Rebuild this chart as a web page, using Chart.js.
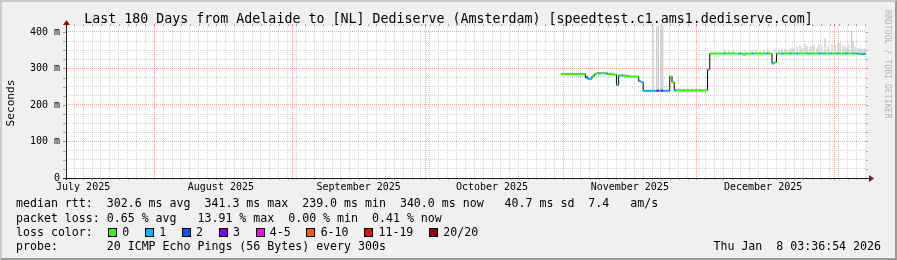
<!DOCTYPE html>
<html><head><meta charset="utf-8">
<script src="https://cdn.jsdelivr.net/npm/chart.js@4.4.1/dist/chart.umd.min.js"></script>
<style>
html,body{margin:0;padding:0;background:#f0f0f0;}
#wrap{position:relative;width:897px;height:260px;overflow:hidden;background:#f0f0f0;font-family:"DejaVu Sans Mono",monospace;color:#000;}
#c{position:absolute;left:0;top:0;}
#frame{position:absolute;left:0;top:0;width:897px;height:260px;box-sizing:border-box;border-style:solid;border-width:2px;border-color:#cbcbcb #999 #999 #cbcbcb;pointer-events:none;}
.t{position:absolute;white-space:pre;font-size:11.6px;line-height:14px;}
#title{position:absolute;left:0;width:897px;top:11.4px;text-align:center;font-size:13.3px;line-height:16px;white-space:pre;}
#ylab{position:absolute;left:-39.5px;top:95.7px;width:100px;height:14px;line-height:14px;text-align:center;font-size:11.1px;transform:rotate(-90deg);white-space:pre;}
#wm{position:absolute;left:838px;top:53.5px;width:100px;height:12px;line-height:12px;text-align:center;font-size:8.2px;color:#b4b4b4;transform:rotate(90deg);white-space:pre;}
#lossrow{display:flex;align-items:flex-start;}
.sw{display:block;width:9px;height:9px;box-sizing:border-box;border:1px solid #000;margin-top:3px;margin-right:5.3px;flex:none;}
.lb{margin-right:15.6px;}
</style>
</head><body>
<div id="wrap">
<canvas id="c" width="897" height="260"></canvas>
<div id="title">Last 180 Days from Adelaide to [NL] Dediserve (Amsterdam) [speedtest.c1.ams1.dediserve.com]</div>
<div id="ylab">Seconds</div>
<div id="wm">RRDTOOL / TOBI OETIKER</div>
<div class="t" style="left:16px;top:196.3px">median rtt:  302.6 ms avg  341.3 ms max  239.0 ms min  340.0 ms now   40.7 ms sd  7.4   am/s</div>
<div class="t" style="left:16px;top:210.7px">packet loss: 0.65 % avg   13.91 % max  0.00 % min  0.41 % now</div>
<div class="t" id="lossrow" style="left:16px;top:225px"></div>
<div class="t" style="left:16px;top:239.3px">probe:       20 ICMP Echo Pings (56 Bytes) every 300s</div>
<div class="t" style="right:16px;top:239.3px">Thu Jan  8 03:36:54 2026</div>
<div id="frame"></div>
</div>
<script>
// ---- time axis: days since 2025-07-01 00:00 (local) ----
const xMin = 11.15, xMax = 191.15;
const monthStarts = [31, 62, 92, 123, 153, 184];
const monthLabelDays = [15, 46, 77, 107, 138, 168];
const monthLabels = ['July 2025','August 2025','September 2025','October 2025','November 2025','December 2025'];

// ---- y axis ticks (ms) ----
const yTicks = [0,25,50,75,100,125,150,175,200,225,250,275,300,325,350,375,400];
const yMajor = [0,100,200,300,400];

// ---- median rtt samples (ms), one every 12 h starting at day 122.5 ----
const sampleStart = 122.5, sampleStep = 0.5;
const median = [
 285,285,285,285,285,285,285,285,285,285,
 285,276,272,272,279,285,287,287,287,287,
 286,285,284,284,283,255,281,281,280,280,
 279,278,278,278,278,265,263,239,239,239,
 239,239,239,239,239,239,239,239,239,278,
 262,240,240,240,240,240,240,240,240,240,
 240,240,240,240,240,240,297,341,341,341,
 341,341,341,341,341,341,341,341,341,341,
 341,341,338,341,341,341,341,341,341,341,
 341,341,341,341,341,314,317,341,341,341,
 341,341,341,341,341,341,341,341,341,341,
 341,341,341,341,341,341,341,341,341,341,
 341,341,341,341,341,341,341,341,341,341,
 341,341,341,341,340,340,340,340
];
// ---- packet loss (lost pings of 20) per sample ----
const loss = [
 0,0,0,0,0,0,0,0,0,0,
 0,2,1,1,0,0,0,1,0,0,
 1,0,0,0,0,1,0,1,0,0,
 0,0,0,0,0,1,1,1,1,1,
 1,1,1,3,1,3,1,1,1,0,
 0,1,0,0,0,0,0,0,0,0,
 0,0,0,0,0,0,1,0,0,0,
 0,0,0,1,0,0,0,0,0,0,
 1,0,0,0,0,0,1,0,0,0,
 0,0,1,0,0,1,0,0,0,1,
 0,0,0,1,0,0,1,0,0,0,
 0,1,0,0,0,0,1,0,1,0,
 0,1,0,0,1,0,0,0,1,0,
 0,1,0,1,0,1,1,0
];
// ---- smoke (spread of individual pings, ms) ----
const smokeDays = [132.2,132.9,133.6,134.2,136.3,136.9,
 143.24,144.07,144.43,145.04,145.42,
 149.3,150.2,151.1,152.0,152.9,153.8,154.7,
 159.44,160.34,161.24,163.04,163.94,165.51,166.41,167.31,168.21,169.11,
 170.69,171.59,172.26,172.94,173.39,174.06,174.51,174.96,175.64,176.31,
 176.76,177.44,177.89,178.56,179.01,179.46,180.14,180.59,181.26,181.94,
 182.61,183.51,184.19,184.86,185.32,185.99,186.44,186.89,187.34,187.95,
 188.24,188.69,189.36,189.81,190.26,190.71,190.94];
const smokeLow = [285,285,284,284,280,280,
 239,239,239,239,239,
 240,240,240,240,240,240,240,
 341,341,341,341,341,341,341,341,341,341,
 341,341,341,341,341,341,341,341,341,341,
 341,341,341,341,341,341,341,341,341,341,
 341,341,341,341,341,341,341,341,341,341,
 341,341,341,341,341,341,341];
const smokeHigh = [291,292,291,290,286,285,
 420,420,420,420,420,
 246,245,246,246,245,246,245,
 351,348,350,346,347,349,350,348,351,350,
 352,350,352,354,351,355,357,356,360,364,
 355,368,362,360,359,364,358,366,362,383,
 360,366,364,370,372,362,360,358,366,403,
 375,360,356,357,354,356,351];

// ---- loss colour legend ----
const lossLabels = ['0','1','2','3','4-5','6-10','11-19','20/20'];
const lossColors = ['#26ff00','#00b8ff','#0059ff','#7e00ff','#ff00ff','#ff5500','#ff0000','#a10000'];

const MAJOR = 'rgba(245,128,128,0.72)';
const MINOR = 'rgba(192,192,192,0.72)';

(function(){
  const row = document.getElementById('lossrow');
  const h = document.createElement('span'); h.textContent = 'loss color:'; h.style.width = '92px'; h.style.flex = 'none'; row.appendChild(h);
  lossLabels.forEach((l, i) => {
    const s = document.createElement('span'); s.className = 'sw'; s.style.background = lossColors[i]; row.appendChild(s);
    const t = document.createElement('span'); t.className = 'lb'; t.textContent = l; row.appendChild(t);
  });
})();

const sDays = median.map((_, i) => sampleStart + i * sampleStep);
const endDay = i => Math.min(sampleStart + (i + 1) * sampleStep, xMax);

const blackLine = median.map((v, i) => ({x: sDays[i], y: v}));
blackLine.push({x: xMax, y: median[median.length - 1]});

function lossSegments(cls) {
  const pts = [];
  median.forEach((v, i) => {
    if (loss[i] === cls) pts.push({x: sDays[i], y: v}, {x: endDay(i), y: v}, {x: endDay(i), y: null});
  });
  return pts;
}
const smokePts = [];
smokeDays.forEach((d, i) => { smokePts.push({x: d, y: smokeLow[i]}, {x: d, y: smokeHigh[i]}, {x: d, y: null}); });

const xTickVals = [];
for (let d = Math.ceil(xMin); d <= xMax; d++) {
  if (d % 2 === 1 || monthStarts.includes(d) || monthLabelDays.includes(d)) xTickVals.push(d);
}

const datasets = [
  {data: smokePts, borderColor: '#bdbdbd', borderWidth: 1, order: 5, spanGaps: false},
  {data: blackLine, borderColor: '#000000', borderWidth: 1, stepped: true, order: 4}
];
[0,1,2,3].forEach(c => datasets.push({data: lossSegments(c), borderColor: lossColors[c], borderWidth: 2, order: 3 - c, spanGaps: false}));

const decor = {
  id: 'decor',
  beforeDraw(chart) {
    const {ctx, chartArea: a} = chart;
    ctx.save(); ctx.fillStyle = '#ffffff';
    ctx.fillRect(a.left, a.top, a.right - a.left, a.bottom - a.top);
    ctx.restore();
  },
  afterDraw(chart) {
    const {ctx, chartArea: a, scales} = chart;
    ctx.save();
    ctx.lineWidth = 1;
    yTicks.forEach(v => {
      const p = Math.round(scales.y.getPixelForValue(v)) + 0.5;
      ctx.strokeStyle = yMajor.includes(v) ? 'rgb(240,120,120)' : 'rgb(170,170,170)';
      ctx.beginPath(); ctx.moveTo(a.left - 3, p); ctx.lineTo(a.left, p); ctx.moveTo(a.right, p); ctx.lineTo(a.right + 2, p); ctx.stroke();
    });
    xTickVals.forEach(v => {
      const major = monthStarts.includes(v);
      if (!major && v % 2 !== 1) return;
      const p = Math.round(scales.x.getPixelForValue(v)) + 0.5;
      ctx.strokeStyle = major ? 'rgb(240,120,120)' : 'rgb(170,170,170)';
      ctx.beginPath(); ctx.moveTo(p, a.top - 2); ctx.lineTo(p, a.top); ctx.moveTo(p, a.bottom); ctx.lineTo(p, a.bottom + 2); ctx.stroke();
    });
    const y0 = a.bottom + 0.5, x0 = a.left + 0.5;
    ctx.strokeStyle = '#202020';
    ctx.beginPath(); ctx.moveTo(a.left - 3, y0); ctx.lineTo(a.right + 3, y0); ctx.stroke();
    ctx.beginPath(); ctx.moveTo(x0, a.bottom + 2); ctx.lineTo(x0, a.top - 1); ctx.stroke();
    ctx.fillStyle = '#8b1010';
    ctx.beginPath(); ctx.moveTo(a.right + 3, y0 - 3.5); ctx.lineTo(a.right + 8, y0); ctx.lineTo(a.right + 3, y0 + 3.5); ctx.closePath(); ctx.fill();
    ctx.beginPath(); ctx.moveTo(x0 - 3.5, a.top - 1); ctx.lineTo(x0, a.top - 6); ctx.lineTo(x0 + 3.5, a.top - 1); ctx.closePath(); ctx.fill();
    ctx.restore();
  }
};

new Chart(document.getElementById('c').getContext('2d'), {
  type: 'line',
  data: {datasets},
  options: {
    responsive: false, animation: false, devicePixelRatio: 1,
    layout: {padding: {left: 0, right: 31, top: 26, bottom: 0}},
    plugins: {legend: {display: false}, tooltip: {enabled: false}, title: {display: false}},
    elements: {point: {radius: 0, hoverRadius: 0}, line: {tension: 0}},
    scales: {
      x: {
        type: 'linear', min: xMin, max: xMax, offset: false,
        afterBuildTicks: s => { s.ticks = xTickVals.map(v => ({value: v})); },
        afterFit: s => { s.height = 82; },
        grid: {
          offset: false, drawTicks: false, lineWidth: 1,
          color: c => { const v = c.tick ? c.tick.value : null; if (monthStarts.includes(v)) return MAJOR; if (v % 2 === 1) return MINOR; return 'rgba(0,0,0,0)'; }
        },
        border: {display: false, dash: [1, 1]},
        ticks: {
          autoSkip: false, maxRotation: 0, minRotation: 0, padding: 3, color: '#000',
          font: {family: "'DejaVu Sans Mono'", size: 10},
          callback: v => { const k = monthLabelDays.indexOf(v); return k >= 0 ? monthLabels[k] : ''; }
        }
      },
      y: {
        type: 'linear', min: 0, max: 416.4,
        afterBuildTicks: s => { s.ticks = yTicks.map(v => ({value: v})); },
        afterFit: s => { s.width = 66; },
        grid: {
          drawTicks: false, lineWidth: 1,
          color: c => { const v = c.tick ? c.tick.value : null; return yMajor.includes(v) ? MAJOR : MINOR; }
        },
        border: {display: false, dash: [1, 1]},
        ticks: {
          autoSkip: false, padding: 6, color: '#000',
          font: {family: "'DejaVu Sans Mono'", size: 10},
          callback: v => yMajor.includes(v) ? (v === 0 ? '0' : v + ' m') : ''
        }
      }
    }
  },
  plugins: [decor]
});
</script>
</body></html>
